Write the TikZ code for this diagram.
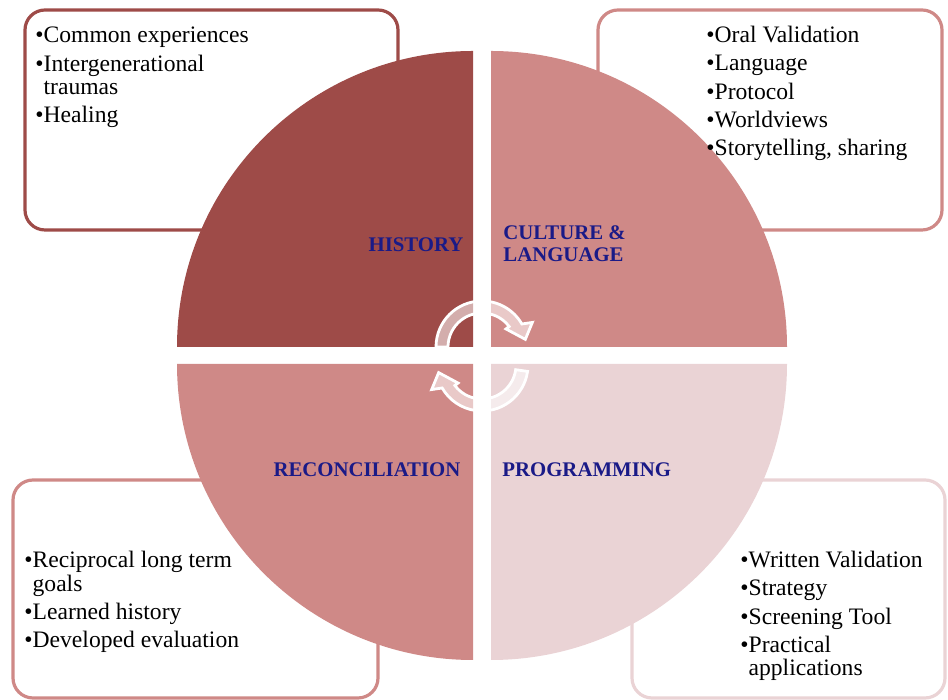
\documentclass[tikz,border=0pt]{standalone}
\usepackage{fontspec}
\setmainfont{Liberation Serif}
\usepackage{xcolor}
\usepackage{tikz}
\usetikzlibrary{positioning}

\definecolor{histred}{RGB}{158,75,72}
\definecolor{midpink}{RGB}{207,137,135}
\definecolor{palepink}{RGB}{234,211,213}
\definecolor{navyblue}{RGB}{26,26,135}

\newcommand{\itm}{\textbullet}
\newcommand{\cont}{\phantom{\textbullet}}

\begin{document}
\begin{tikzpicture}[x=0.5pt, y=0.5pt, every node/.style={inner sep=0pt},
  card/.style={rounded corners=10pt, line width=1.6pt, fill=white},
  title/.style={font=\fontsize{10.4}{11}\selectfont\bfseries, text=navyblue},
  items/.style={font=\fontsize{11.8}{11.5}\selectfont, text=black, anchor=base west},
  turn/.style={draw=white, line width=1.4pt, fill=white, fill opacity=0.55}]
\useasboundingbox (0,0) rectangle (948,700);

\draw[card, draw=histred] (25,470) rectangle (398,690);
\draw[card, draw=midpink] (598,470) rectangle (942,690);
\draw[card, draw=midpink] (13,2) rectangle (378,220);
\draw[card, draw=palepink] (632,2) rectangle (945,220);

\fill[histred] (473,353) -- (177,353) arc[start angle=180, end angle=90, radius=296] -- cycle;
\fill[midpink] (491,353) -- (491,649) arc[start angle=90, end angle=0, radius=296] -- cycle;
\fill[midpink] (473,336) -- (473,40) arc[start angle=270, end angle=180, radius=296] -- cycle;
\fill[palepink] (491,336) -- (787,336) arc[start angle=0, end angle=-90, radius=296] -- cycle;

\begin{scope}[shift={(482,353)}]
\draw[turn] (180:46) arc[start angle=180, end angle=30, radius=46] -- (26:56) -- (10:44) -- (37:30) -- (37:34) arc[start angle=37, end angle=180, radius=34] -- cycle;
\end{scope}
\begin{scope}[shift={(482,335)}]
\draw[turn] (-8:46) arc[start angle=-8, end angle=-150, radius=46] -- (206:56) -- (190:44) -- (217:30) -- (217:34) arc[start angle=-143, end angle=-8, radius=34] -- cycle;
\end{scope}

\node[title, anchor=base] (history) at (416,448) {HISTORY};
\node[title, anchor=base west] (culture) at (503,460) {\begin{tabular}[t]{@{}l@{}}CULTURE \&\\LANGUAGE\end{tabular}};
\node[title, anchor=base] (reconciliation) at (367,223) {RECONCILIATION};
\node[title, anchor=base west] (programming) at (502,223) {PROGRAMMING};

\node[items] (history-list) at (35,657) {\begin{tabular}[t]{@{}l@{}}
\itm Common experiences\\[2.5pt]
\itm Intergenerational\\
\cont traumas\\[2.5pt]
\itm Healing
\end{tabular}};
\node[items] (culture-list) at (706,657) {\begin{tabular}[t]{@{}l@{}}
\itm Oral Validation\\[2.5pt]
\itm Language\\[2.5pt]
\itm Protocol\\[2.5pt]
\itm Worldviews\\[2.5pt]
\itm Storytelling, sharing
\end{tabular}};
\node[items] (reconciliation-list) at (24,132) {\begin{tabular}[t]{@{}l@{}}
\itm Reciprocal long term\\
\cont goals\\[2.5pt]
\itm Learned history\\[2.5pt]
\itm Developed evaluation
\end{tabular}};
\node[items] (programming-list) at (740,132) {\begin{tabular}[t]{@{}l@{}}
\itm Written Validation\\[2.5pt]
\itm Strategy\\[2.5pt]
\itm Screening Tool\\[2.5pt]
\itm Practical\\
\cont applications
\end{tabular}};
\end{tikzpicture}
\end{document}
